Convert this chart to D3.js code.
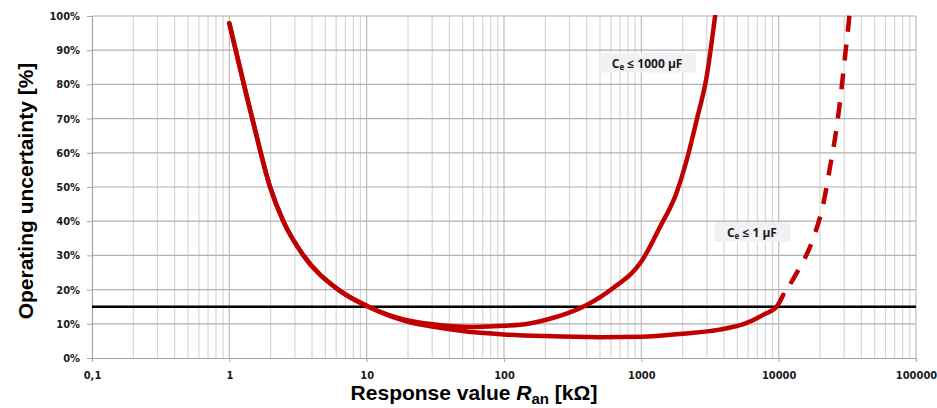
<!DOCTYPE html>
<html>
<head>
<meta charset="utf-8">
<script src="https://cdn.jsdelivr.net/npm/d3@7"></script>
<style>
  html, body { margin: 0; padding: 0; background: #fff; }
  svg { display: block; }
  .tick-y { font-family: "DejaVu Sans Condensed", "DejaVu Sans", sans-serif; font-stretch: condensed; font-weight: bold; font-size: 11px; fill: #1a1a1a; }
  .tick-x { font-family: "DejaVu Sans Condensed", "DejaVu Sans", sans-serif; font-stretch: condensed; font-weight: bold; font-size: 11px; fill: #1a1a1a; }
  .title { font-family: "Liberation Sans", Arial, sans-serif; font-weight: bold; font-size: 21px; fill: #000; }
  .note { font-family: "Open Sans", sans-serif; font-weight: bold; font-size: 12px; fill: #1a1a1a; }
</style>
</head>
<body>
<svg id="chart" width="937" height="408"></svg>
<script>
// Response value R_an in kΩ vs. operating uncertainty in %
const xDomain = [0.1, 100000];
const yDomain = [0, 100];
const xTickValues = [0.1, 1, 10, 100, 1000, 10000, 100000];
const xTickLabels = ["0,1", "1", "10", "100", "1000", "10000", "100000"];
const yTickValues = [0, 10, 20, 30, 40, 50, 60, 70, 80, 90, 100];
const limitValue = 15;

// Curve for Ce ≤ 1000 µF: [R_an kΩ, uncertainty %]
const curve1000uF = [
  [1, 97.9], [1.47, 70], [1.98, 50], [2.47, 40], [3.46, 30], [6.21, 20],
  [10.3, 15], [20, 11.0], [30, 9.9], [60, 9.1], [100, 9.4], [150, 10.0],
  [200, 11.1], [400, 15.5], [620, 20.4], [1000, 28.2], [1370, 38.4],
  [1800, 48.2], [2140, 57.9], [2530, 69.6], [2990, 82.3], [3440, 99.8],
  [3550, 104]
];

// Curve for Ce ≤ 1 µF, measured part
const curve1uF = [
  [1, 97.9], [1.47, 70], [1.98, 50], [2.47, 40], [3.46, 30], [6.21, 20],
  [10.3, 15], [20, 10.6], [30, 9.2], [50, 7.9], [100, 6.9], [200, 6.4],
  [500, 6.1], [1000, 6.2], [2000, 7.1], [3700, 8.3], [5800, 10.2],
  [7700, 12.6], [9700, 15.1], [10800, 18.5]
];

// Curve for Ce ≤ 1 µF, extrapolated part (dashed)
const curve1uFExtrapolated = [
  [10800, 18.5], [13500, 24.8], [17900, 35.1], [21200, 45.3], [23700, 56],
  [26500, 67.7], [28800, 79.4], [30800, 90.1], [32700, 99.8], [33300, 103]
];

// Curve notes: anchor = start of text baseline, in data units
const notes = [
  { text: "C", sub: "e", rest: " ≤ 1000 µF", at: [610, 84.8] },
  { text: "C", sub: "e", rest: " ≤ 1 µF", at: [4200, 35.3] }
];

const svg = d3.select("#chart");
const plot = { left: 92, right: 916, top: 16, bottom: 358 };

const x = d3.scaleLog().domain(xDomain).range([plot.left, plot.right]);
const y = d3.scaleLinear().domain(yDomain).range([plot.bottom, plot.top]);

// grid: minor verticals
const minor = [];
for (let e = -1; e < 5; e++) {
  for (let m = 2; m <= 9; m++) minor.push(m * Math.pow(10, e));
}
svg.append("g").selectAll("line").data(minor).join("line")
  .attr("x1", d => x(d)).attr("x2", d => x(d))
  .attr("y1", plot.top).attr("y2", plot.bottom)
  .attr("stroke", "#d6d6d6").attr("stroke-width", 1.2);

// grid: decade verticals
svg.append("g").selectAll("line").data(xTickValues.slice(1)).join("line")
  .attr("x1", d => x(d)).attr("x2", d => x(d))
  .attr("y1", plot.top).attr("y2", plot.bottom)
  .attr("stroke", "#bdbdbd").attr("stroke-width", 1.2);

// grid: horizontals
svg.append("g").selectAll("line").data(yTickValues.slice(1)).join("line")
  .attr("x1", plot.left).attr("x2", plot.right)
  .attr("y1", d => y(d)).attr("y2", d => y(d))
  .attr("stroke", "#b0b0b0").attr("stroke-width", 1.2);

// axes
const yAxis = d3.axisLeft(y).tickValues(yTickValues).tickSize(5).tickPadding(7)
  .tickFormat(d => d + "%");
const gy = svg.append("g").attr("transform", `translate(${plot.left},0)`).call(yAxis);
gy.select(".domain").attr("stroke", "#a6a6a6").attr("stroke-width", 1.2);
gy.selectAll(".tick line").attr("stroke", "#a6a6a6");
gy.selectAll(".tick text").attr("class", "tick-y");

const xAxis = d3.axisBottom(x).tickValues(xTickValues).tickSize(4).tickPadding(9)
  .tickFormat((d, i) => xTickLabels[i]);
const gx = svg.append("g").attr("transform", `translate(0,${plot.bottom})`).call(xAxis);
gx.select(".domain").attr("stroke", "#a6a6a6").attr("stroke-width", 1.2);
gx.selectAll(".tick line").attr("stroke", "#a6a6a6");
gx.selectAll(".tick text").attr("class", "tick-x");
gy.attr("font-family", null).attr("font-size", null);
gx.attr("font-family", null).attr("font-size", null);

// clip for curves
svg.append("clipPath").attr("id", "plotClip").append("rect")
  .attr("x", plot.left).attr("y", plot.top - 1)
  .attr("width", plot.right - plot.left).attr("height", plot.bottom - plot.top + 1);

// limit line
svg.append("line")
  .attr("x1", x(xDomain[0])).attr("x2", x(xDomain[1]))
  .attr("y1", y(limitValue)).attr("y2", y(limitValue))
  .attr("stroke", "#000").attr("stroke-width", 2.4);

const line = d3.line().x(d => x(d[0])).y(d => y(d[1])).curve(d3.curveMonotoneX);
const curves = svg.append("g").attr("clip-path", "url(#plotClip)");
const red = "#c00000";

curves.append("path").datum(curve1uF).attr("d", line)
  .attr("fill", "none").attr("stroke", red).attr("stroke-width", 4.5)
  .attr("stroke-linecap", "round").attr("stroke-linejoin", "round");
curves.append("path").datum(curve1uFExtrapolated).attr("d", line)
  .attr("fill", "none").attr("stroke", red).attr("stroke-width", 4.5)
  .attr("stroke-dasharray", "16,13").attr("stroke-dashoffset", 16);
curves.append("path").datum(curve1000uF).attr("d", line)
  .attr("fill", "none").attr("stroke", red).attr("stroke-width", 4.5)
  .attr("stroke-linecap", "round").attr("stroke-linejoin", "round");

// curve notes
notes.forEach(n => {
  const px = x(n.at[0]), py = y(n.at[1]);
  const g = svg.append("g").attr("transform", `translate(${px},${py})`);
  const rect = g.append("rect").attr("fill", "#f1f1f3");
  const t = g.append("text").attr("class", "note").attr("x", 0).attr("y", 0);
  t.append("tspan").text(n.text);
  t.append("tspan").text(n.sub).attr("font-size", "8px").attr("dy", 2);
  t.append("tspan").text(n.rest).attr("dy", -2);
  const bb = t.node().getBBox();
  rect.attr("x", bb.x - 12.5).attr("y", -15).attr("width", bb.width + 26).attr("height", 19.5);
});

// axis titles
const xt = svg.append("text").attr("class", "title")
  .attr("x", 474).attr("y", 400).attr("text-anchor", "middle");
xt.append("tspan").text("Response value ");
xt.append("tspan").text("R").attr("font-style", "italic");
xt.append("tspan").text("an").attr("font-size", "15px").attr("dy", 4);
xt.append("tspan").text(" [kΩ]").attr("dy", -4);

svg.append("text").attr("class", "title")
  .attr("transform", "translate(33,191) rotate(-90)")
  .attr("text-anchor", "middle")
  .text("Operating uncertainty [%]");
</script>
</body>
</html>
